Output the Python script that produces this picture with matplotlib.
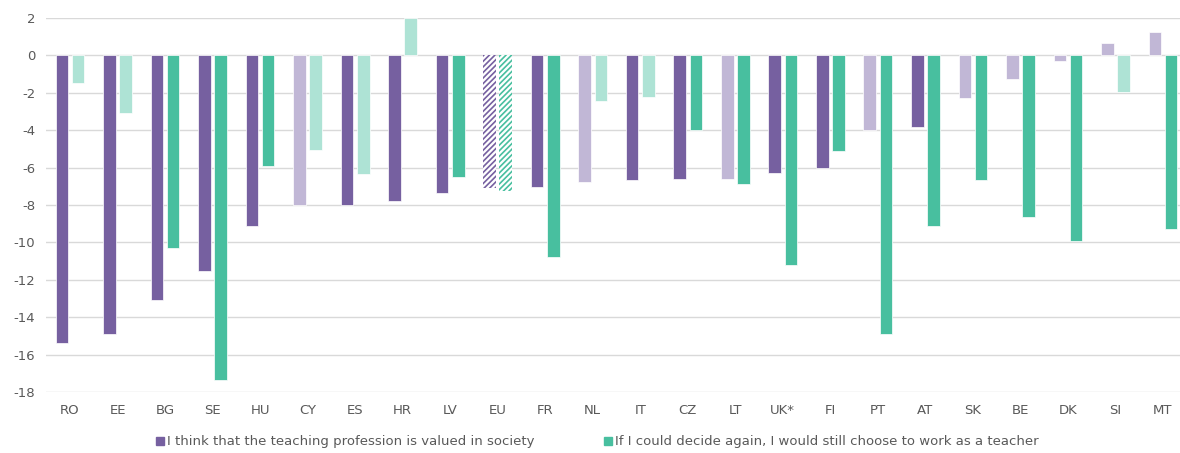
import numpy as np
import matplotlib.pyplot as plt

countries = ["RO", "EE", "BG", "SE", "HU", "CY", "ES", "HR", "LV", "EU", "FR", "NL",
             "IT", "CZ", "LT", "UK*", "FI", "PT", "AT", "SK", "BE", "DK", "SI", "MT"]
valued = [-15.4, -14.9, -13.1, -11.55, -9.1, -8.0, -7.98, -7.8, -7.37, -7.1, -7.03, -6.78,
          -6.64, -6.59, -6.59, -6.28, -6.03, -3.98, -3.84, -2.3, -1.25, -0.3, 0.68, 1.27]
choose_again = [-1.5, -3.1, -10.3, -17.37, -5.93, -5.07, -6.32, 2.0, -6.48, -7.27, -10.8, -2.45,
                -2.2, -4.0, -6.87, -11.21, -5.12, -14.89, -9.1, -6.68, -8.66, -9.91, -1.98, -9.28]
# 1 = strong colour, 0 = pale colour
valued_sig = [1, 1, 1, 1, 1, 0, 1, 1, 1, 1, 1, 0, 1, 1, 0, 1, 1, 0, 1, 0, 0, 0, 0, 0]
choose_sig = [0, 0, 1, 1, 1, 0, 0, 0, 1, 1, 1, 0, 0, 1, 1, 1, 1, 1, 1, 1, 1, 1, 0, 1]

purple, purple_lt = "#7660A0", "#C1B7D6"
teal, teal_lt = "#48BF9F", "#AEE3D5"
grey = "#595959"

plt.rcParams['font.family'] = ['DejaVu Sans']
plt.rcParams['axes.unicode_minus'] = False
plt.rcParams['hatch.linewidth'] = 1.2

fig = plt.figure(figsize=(11.8, 4.53), dpi=100)
ax = fig.add_axes([0.0392, 0.1347, 0.9665, 0.8256])

x = np.arange(len(countries))
w = 0.265
off = 0.17
for i, c in enumerate(countries):
    if c == "EU":
        ax.bar(x[i] - off, valued[i], w, color="white", edgecolor=purple,
               hatch="//////", linewidth=0, zorder=3)
        ax.bar(x[i] + off, choose_again[i], w, color="white", edgecolor=teal,
               hatch="//////", linewidth=0, zorder=3)
    else:
        ax.bar(x[i] - off, valued[i], w, color=purple if valued_sig[i] else purple_lt,
               edgecolor="white", linewidth=0.5, zorder=3)
        ax.bar(x[i] + off, choose_again[i], w, color=teal if choose_sig[i] else teal_lt,
               edgecolor="white", linewidth=0.5, zorder=3)

ax.set_xlim(-0.5, len(countries) - 0.5)
ax.set_ylim(-18, 2)
ax.set_yticks(np.arange(-18, 3, 2))
ax.set_xticks(x)
ax.set_xticklabels(countries)
ax.tick_params(axis="both", length=0, colors=grey, labelsize=9.5)
ax.tick_params(axis="x", pad=9)
ax.tick_params(axis="y", pad=8)
ax.yaxis.grid(True, color="#D9D9D9", linewidth=1, zorder=0)
ax.set_axisbelow(True)
for s in ax.spines.values():
    s.set_visible(False)

handles = [plt.Rectangle((0, 0), 1, 1, color=purple), plt.Rectangle((0, 0), 1, 1, color=teal)]
labels = ["I think that the teaching profession is valued in society",
          "If I could decide again, I would still choose to work as a teacher"]
fig.legend(handles, labels, loc="lower center", bbox_to_anchor=(0.506, -0.016), ncol=2,
           frameon=False, fontsize=9.5, handlelength=0.6, handleheight=0.6,
           handletextpad=0.2, columnspacing=5.3, labelcolor=grey)

fig.savefig("out.png", dpi=100)
